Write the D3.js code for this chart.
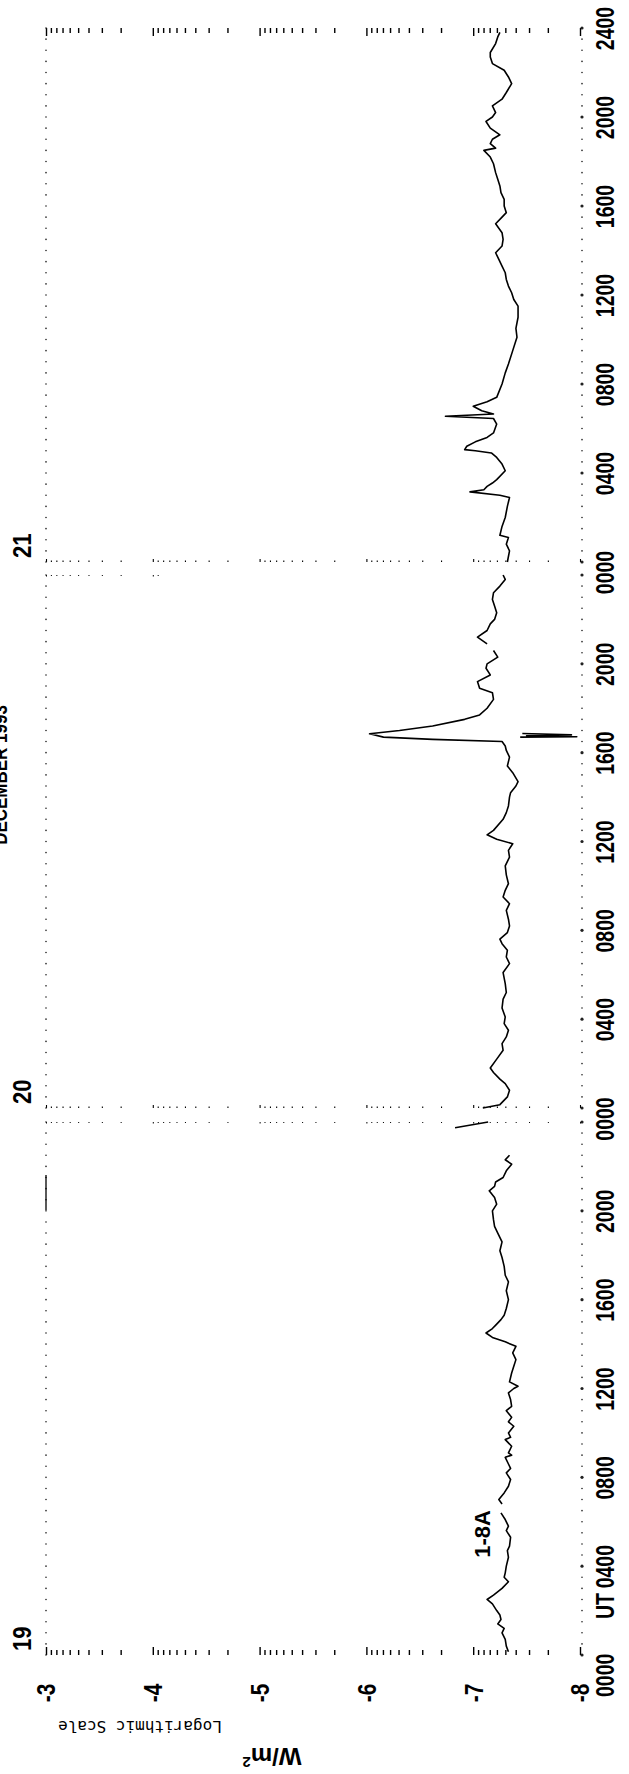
<!DOCTYPE html>
<html>
<head>
<meta charset="utf-8">
<script src="https://cdn.jsdelivr.net/npm/d3@7/dist/d3.min.js"></script>
<style>
    html, body { margin: 0; padding: 0; background: #fff; }
    svg { display: block; }
    .lbl { font-family: "Liberation Sans", Arial, sans-serif; font-weight: bold; fill: #000; }
    .mono { font-family: "DejaVu Sans Mono", monospace; fill: #000; }
</style>
</head>
<body>
<svg id="chart" width="629" height="1774"></svg>
<script>
// GOES 1-8A X-ray flux, log10(W/m^2): [hour UT, value]
const day19Flux = [
    [0.15, -7.33], [0.4, -7.31], [0.7, -7.30], [1.0, -7.27], [1.2, -7.29], [1.4, -7.23], [1.6, -7.26],
    [1.8, -7.25], [2.0, -7.22], [2.3, -7.18], [2.5, -7.13], [2.7, -7.19], [3.0, -7.27], [3.3, -7.33],
    [3.5, -7.29], [3.7, -7.30], [4.0, -7.31], [4.4, -7.33], [4.7, -7.32], [4.9, -7.34], [5.3, -7.35],
    [5.6, -7.31], [5.8, -7.33], [6.1, -7.30], [6.4, -7.26], [6.6, null],
    [6.8, -7.27], [7.0, -7.24], [7.3, -7.29], [7.6, -7.33], [7.9, -7.35], [8.2, -7.31], [8.4, -7.35],
    [8.6, -7.33], [8.9, -7.30], [9.0, -7.36], [9.1, -7.33], [9.4, -7.36], [9.7, -7.30], [9.8, -7.35],
    [10.0, -7.33], [10.3, -7.38], [10.5, -7.33], [10.7, -7.36], [11.0, -7.31], [11.2, -7.36],
    [11.5, -7.35], [11.8, -7.33], [12.0, -7.38], [12.1, -7.42], [12.3, -7.34], [12.7, -7.36],
    [13.0, -7.38], [13.3, -7.40], [13.6, -7.37], [13.9, -7.40], [14.1, -7.30], [14.3, -7.18],
    [14.5, -7.12], [14.7, -7.18], [14.9, -7.22], [15.1, -7.26], [15.3, -7.29], [15.6, -7.31],
    [16.0, -7.33], [16.4, -7.31], [16.8, -7.33], [17.1, -7.30], [17.5, -7.29], [17.9, -7.27],
    [18.2, -7.25], [18.6, -7.27], [19.0, -7.23], [19.3, -7.20], [19.6, -7.19], [20.0, -7.18],
    [20.3, -7.22], [20.6, -7.20], [20.9, -7.15], [21.1, -7.20], [21.3, -7.21], [21.5, -7.28],
    [21.8, -7.31], [22.1, -7.36], [22.3, -7.30], [22.5, -7.34]
];
const day19Glitch = [[23.74, -6.83], [24.0, -7.14]];

const day20Flux = [
    [0.0, -7.09], [0.15, -7.25], [0.5, -7.32], [0.8, -7.34], [1.1, -7.30], [1.3, -7.25], [1.6, -7.19],
    [1.8, -7.16], [2.2, -7.22], [2.6, -7.28], [2.9, -7.27], [3.2, -7.31], [3.5, -7.33], [3.8, -7.29],
    [4.1, -7.30], [4.5, -7.27], [4.9, -7.28], [5.2, -7.31], [5.6, -7.30], [6.1, -7.28], [6.5, -7.34],
    [6.8, -7.31], [7.1, -7.32], [7.4, -7.27], [7.6, -7.25], [7.9, -7.32], [8.2, -7.34], [8.5, -7.33],
    [8.9, -7.31], [9.2, -7.34], [9.5, -7.28], [9.8, -7.30], [10.1, -7.33], [10.5, -7.31], [10.9, -7.30],
    [11.3, -7.34], [11.6, -7.33], [11.9, -7.37], [12.1, -7.22], [12.3, -7.13], [12.5, -7.19],
    [13.0, -7.28], [13.3, -7.31], [13.6, -7.33], [14.0, -7.34], [14.2, -7.35], [14.5, -7.40],
    [14.7, -7.42], [15.1, -7.37], [15.4, -7.32], [15.8, -7.34], [16.1, -7.31], [16.3, -7.30],
    [16.5, -7.27], [16.6, -6.62], [16.7, -6.16], [16.85, -6.03], [17.0, -6.31], [17.2, -6.62],
    [17.5, -6.92], [17.7, -7.06], [18.0, -7.13], [18.4, -7.19], [18.7, -7.18], [18.9, -7.06],
    [19.2, -7.04], [19.5, -7.16], [19.8, -7.12], [20.0, -7.13], [20.3, -7.23], [20.6, -7.19],
    [20.75, null],
    [20.9, -7.13], [21.2, -7.04], [21.5, -7.13], [21.8, -7.16], [22.0, -7.20], [22.3, -7.22],
    [22.6, -7.20], [22.9, -7.18], [23.2, -7.19], [23.5, -7.25], [23.8, -7.30], [24.0, -7.28]
];
const day20Dropout = [[16.70, -7.44], [16.72, -7.97], [16.76, -7.50], [16.80, -7.92], [16.86, -7.46]];

const day21Flux = [
    [0.0, -7.32], [0.5, -7.34], [0.8, -7.31], [1.1, -7.33], [1.2, -7.25], [1.6, -7.27], [2.0, -7.30],
    [2.5, -7.32], [2.9, -7.34], [3.0, -7.25], [3.15, -6.97], [3.25, -7.10], [3.4, -7.13], [3.55, -7.18],
    [3.7, -7.22], [4.1, -7.30], [4.4, -7.27], [4.7, -7.22], [4.9, -7.17], [5.0, -7.02], [5.05, -6.92],
    [5.2, -6.94], [5.4, -7.02], [5.6, -7.13], [5.8, -7.19], [6.2, -7.22], [6.45, -7.19], [6.55, -6.74],
    [6.65, -7.19], [6.8, -7.08], [7.0, -7.00], [7.2, -7.13], [7.4, -7.22], [8.0, -7.27], [8.5, -7.30],
    [8.9, -7.33], [9.5, -7.37], [10.1, -7.41], [10.5, -7.40], [11.0, -7.42], [11.5, -7.42],
    [11.8, -7.38], [12.1, -7.36], [12.4, -7.33], [12.7, -7.31], [13.0, -7.30], [13.3, -7.27],
    [13.6, -7.24], [13.9, -7.21], [14.2, -7.27], [14.5, -7.28], [14.8, -7.27], [15.2, -7.21],
    [15.5, -7.27], [15.7, -7.31], [16.0, -7.29], [16.3, -7.29], [16.6, -7.26], [16.9, -7.25],
    [17.2, -7.23], [17.5, -7.21], [17.9, -7.19], [18.2, -7.16], [18.5, -7.10], [18.6, -7.21],
    [18.8, -7.16], [19.0, -7.18], [19.2, -7.25], [19.5, -7.16], [19.8, -7.12], [20.0, -7.18],
    [20.2, -7.21], [20.5, -7.18], [20.8, -7.27], [21.1, -7.31], [21.5, -7.36], [21.8, -7.33],
    [22.1, -7.29], [22.4, -7.18], [22.7, -7.16], [22.9, -7.16], [23.3, -7.21], [23.6, -7.23],
    [23.8, -7.25]
];

const logLabels = [-3, -4, -5, -6, -7, -8];
const timeHours = [0, 4, 8, 12, 16, 20, 24];
const timeLabels = ["0000", "0400", "0800", "1200", "1600", "2000", "2400"];
const dayNames = ["19", "20", "21"];
const seriesName = "1-8A";
const title = "DECEMBER 1993";

const svg = d3.select("#chart");

// the whole plot is turned on its side: time runs up the page, flux runs right-to-left
const flux = d3.scaleLog().domain([1e-8, 1e-3]).range([580, 46]);
const dayStart = [1655, 1108, 562];
const dayEnd = [1122, 575, 28];
const days = dayStart.map((s, i) => d3.scaleLinear().domain([0, 24]).range([s, dayEnd[i]]));

const isMajor = d => Math.abs(Math.log10(d) - Math.round(Math.log10(d))) < 1e-6;

function fluxRow(y, dir, major, minor, width, keep) {
    const axis = d3.axisBottom(flux)
        .tickValues(flux.ticks().filter(keep || (() => true)))
        .tickSizeOuter(0)
        .tickFormat("");
    const g = svg.append("g")
        .attr("transform", `translate(0,${y})`)
        .call(axis);
    g.select(".domain").remove();
    g.selectAll(".tick text").remove();
    g.selectAll(".tick line")
        .attr("y2", d => dir * (isMajor(d) ? major : minor))
        .attr("stroke", "#000")
        .attr("stroke-width", width);
    return g;
}

// tick rows at the day boundaries
fluxRow(days[0](0), -1, 8, 5, 1.4);
fluxRow(days[2](24), 1, 8, 5, 1.4);
fluxRow(days[1](0), -1, 3, 1.5, 1.1);
fluxRow(days[2](0), -1, 3, 1.5, 1.1);
fluxRow(days[0](24), 1, 1.5, 1, 1);
fluxRow(days[1](24), 1, 1.5, 1, 1, d => d > 8e-5);

// dotted edges every half hour
const halfHours = d3.range(0, 24.001, 0.5);
days.forEach(day => {
    svg.append("g").selectAll("circle")
        .data(halfHours)
        .join("circle")
        .attr("cx", flux(1e-3))
        .attr("cy", d => day(d))
        .attr("r", 0.8)
        .attr("fill", "#222");
    svg.append("g").selectAll("circle")
        .data(halfHours)
        .join("circle")
        .attr("cx", flux(1e-8) + 2)
        .attr("cy", d => day(d))
        .attr("r", d => d % 4 === 0 ? 1.6 : 0.8)
        .attr("fill", "#222");
});

svg.append("line")
    .attr("x1", flux(1e-3)).attr("x2", flux(1e-3))
    .attr("y1", 1175).attr("y2", 1210)
    .attr("stroke", "#000").attr("stroke-width", 1.3);

// time labels, one axis per day
days.forEach((day, i) => {
    const vals = timeHours.filter(h => h > 0 && (h < 24 || i === 2));
    const g = svg.append("g")
        .attr("transform", `translate(${flux(1e-8) + 2},0)`)
        .call(d3.axisRight(day).tickValues(vals).tickSize(0)
            .tickFormat(h => timeLabels[timeHours.indexOf(h)]));
    g.select(".domain").remove();
    g.selectAll(".tick text")
        .attr("class", "lbl")
        .attr("x", null)
        .attr("font-size", 26)
        .attr("text-anchor", "middle")
        .attr("transform", "translate(23,0) rotate(-90) scale(0.75,1)")
        .attr("dy", "0.36em");
});

function rotText(txt, x, y, opts) {
    const o = Object.assign({ size: 26, sx: 0.75, anchor: "middle", cls: "lbl", rot: -90 }, opts);
    return svg.append("text")
        .attr("class", o.cls)
        .attr("font-size", o.size)
        .attr("text-anchor", o.anchor)
        .attr("dy", o.dy === undefined ? "0.36em" : o.dy)
        .attr("transform", `translate(${x},${y}) rotate(${o.rot}) scale(${o.sx},1)`)
        .text(txt);
}

// boundary labels
rotText(timeLabels[0], 605, days[0](0) + 42, { anchor: "start" });
rotText("UT", 605, 1606, {});
rotText(timeLabels[0], 605, (days[0](24) + days[1](0)) / 2 + 4, {});
rotText(timeLabels[0], 605, (days[1](24) + days[2](0)) / 2 + 4, {});

// day numbers
days.forEach((day, i) => {
    rotText(dayNames[i], 22, day(0) - 4, { anchor: "start", sx: 0.85 });
});

// flux exponent labels
logLabels.forEach(e => {
    rotText(String(e), flux(Math.pow(10, e)), 1693, { sx: 0.8 });
});

rotText(seriesName, 482, 1534, { size: 22, sx: 1 });
rotText(title, 7, 775, { size: 20, sx: 0.85, dy: 0 });

rotText("Logarithmic Scale", 140, 1727, { cls: "mono", size: 16, sx: 1, rot: 180 });
const wm = rotText("W/m", 272, 1757, { size: 24, sx: 1, rot: 180 })
    .attr("font-weight", "normal");
wm.append("tspan").attr("font-size", 15).attr("dy", "-0.6em").text("2");

// curves
const drawLine = (data, day) => {
    const line = d3.line()
        .defined(d => d[1] !== null)
        .x(d => flux(Math.pow(10, d[1])))
        .y(d => day(d[0]));
    svg.append("path")
        .datum(data)
        .attr("d", line)
        .attr("fill", "none")
        .attr("stroke", "#000")
        .attr("stroke-width", 1.6)
        .attr("stroke-linejoin", "round");
};

drawLine(day19Flux, days[0]);
drawLine(day19Glitch, days[0]);
drawLine(day20Flux, days[1]);
drawLine(day20Dropout, days[1]);
drawLine(day21Flux, days[2]);
</script>
</body>
</html>
